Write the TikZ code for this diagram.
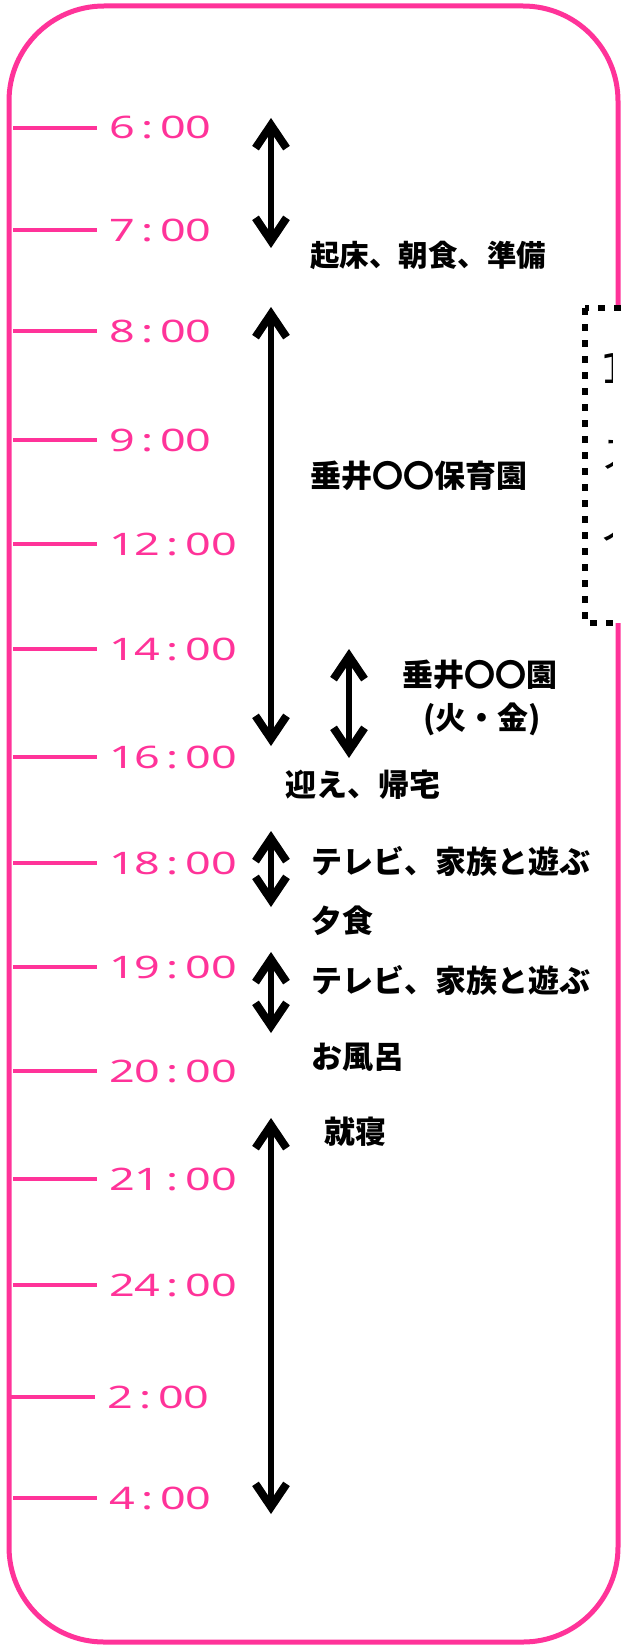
\documentclass[tikz,border=0pt]{standalone}
\usepackage{fontspec}
\usetikzlibrary{arrows.meta}
\setmainfont{Noto Sans CJK JP}
\newfontfamily\jp{Noto Sans CJK JP}
\newfontfamily\timefont[FakeStretch=1.45]{Noto Sans}
\newfontfamily\djv{DejaVu Sans}
\definecolor{pk}{HTML}{FF3399}
\newcommand\tch[1]{\makebox[25.5pt][c]{#1}}
\newcommand\tlab[4]{\tch{#1}\tch{#2}\tch{#3}\tch{#4}}
\tikzset{
  mybarb/.tip={Straight Barb[length=23pt,width=31pt,line width=8pt 0 1]},
  frame/.style={draw=pk, line width=5pt, rounded corners=95pt},
  tick/.style={draw=pk, line width=4.5pt},
  timelab/.style={anchor=base west, inner sep=0pt, text=pk, font=\timefont\fontsize{31}{31}\selectfont},
  actlab/.style={anchor=base west, inner sep=0pt, font=\jp\bfseries\fontsize{31}{31}\selectfont},
  span/.style={draw=black, line width=5.5pt, {mybarb}-{mybarb}},
  notebox/.style={draw=black, fill=white, line width=6.5pt, dash pattern=on 7pt off 9pt},
  notetext/.style={anchor=base west, inner sep=0pt, font=\jp\fontsize{40}{40}\selectfont}
}
\begin{document}
\begin{tikzpicture}[x=1pt,y=-1pt]
\useasboundingbox (0,0) rectangle (621,1645);
\clip (0,0) rectangle (621,1645);
% frame
\draw[frame] (9,6) rectangle (618,1642);
% ticks
\foreach \yy in {128,230,331,440,544,649,757,863,967,1071,1179,1285,1498}{
  \draw[tick] (13,\yy) -- (97,\yy);
}
\draw[tick] (11,1397) -- (95,1397);
% time labels
\node[timelab] (t6) at (109,139) {\tlab{6}{:}{0}{0}};
\node[timelab] (t7) at (109,241) {\tlab{7}{:}{0}{0}};
\node[timelab] (t8) at (109,342) {\tlab{8}{:}{0}{0}};
\node[timelab] (t9) at (109,451) {\tlab{9}{:}{0}{0}};
\node[timelab] (t12) at (109,555) {\tlab{1}{2}{:}{0}\tch{0}};
\node[timelab] (t14) at (109,660) {\tlab{1}{4}{:}{0}\tch{0}};
\node[timelab] (t16) at (109,768) {\tlab{1}{6}{:}{0}\tch{0}};
\node[timelab] (t18) at (109,874) {\tlab{1}{8}{:}{0}\tch{0}};
\node[timelab] (t19) at (109,978) {\tlab{1}{9}{:}{0}\tch{0}};
\node[timelab] (t20) at (109,1082) {\tlab{2}{0}{:}{0}\tch{0}};
\node[timelab] (t21) at (109,1190) {\tlab{2}{1}{:}{0}\tch{0}};
\node[timelab] (t24) at (109,1296) {\tlab{2}{4}{:}{0}\tch{0}};
\node[timelab] (t2) at (107,1408) {\tlab{2}{:}{0}{0}};
\node[timelab] (t4) at (109,1509) {\tlab{4}{:}{0}{0}};
% arrows
\coordinate (a1t) at (271,118); \coordinate (a1b) at (271,248);
\coordinate (a2t) at (271,307); \coordinate (a2b) at (271,746);
\coordinate (a3t) at (349,649); \coordinate (a3b) at (349,758);
\coordinate (a4t) at (271,831); \coordinate (a4b) at (271,907);
\coordinate (a5t) at (271,952); \coordinate (a5b) at (271,1033);
\coordinate (a6t) at (271,1118); \coordinate (a6b) at (271,1514);
\draw[span] (a1t) -- (a1b);
\draw[span] (a2t) -- (a2b);
\draw[span] (a3t) -- (a3b);
\draw[span] (a4t) -- (a4b);
\draw[span] (a5t) -- (a5b);
\draw[span] (a6t) -- (a6b);
% activity labels
\node[actlab, font=\jp\bfseries\fontsize{29.5}{29.5}\selectfont] (wake) at (310,266) {起床、朝食、準備};
\node[actlab] (hoiku) at (310,487) {垂井〇〇保育園};
\node[actlab] (en) at (402,686) {垂井〇〇園};
\node[actlab, anchor=base] (days) at (482,729) {(火・金)};
\node[actlab] (home) at (285,796) {迎え、帰宅};
\node[actlab] (tv1) at (311,873) {テレビ、家族と遊ぶ};
\node[actlab] (dinner) at (311,932) {夕食};
\node[actlab] (tv2) at (311,992) {テレビ、家族と遊ぶ};
\node[actlab] (bath) at (311,1068) {お風呂};
\node[actlab] (sleep) at (324,1143) {就寝};
% note box (cut off at the right edge)
\draw[notebox] (585,308) rectangle (720,623);
\begin{scope}
\clip (589,312) rectangle (612,619);
\node[notetext, font=\djv\fontsize{41}{41}\selectfont] (n1) at (600,383) {1};
\node[notetext] (n2) at (601,468) {ス};
\node[notetext] (n3) at (598,540) {ノ};
\end{scope}
\end{tikzpicture}
\end{document}
